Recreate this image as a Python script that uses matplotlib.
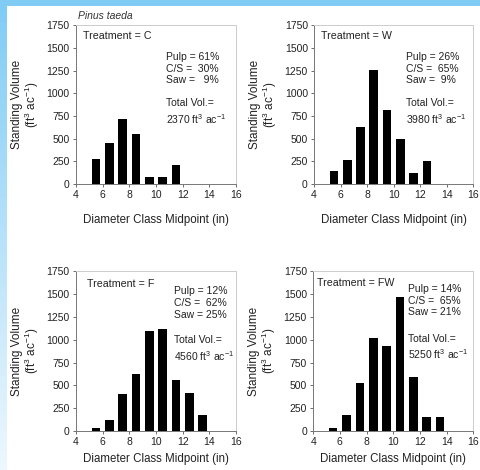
import numpy as np
import matplotlib.pyplot as plt

plt.rcParams["font.family"] = ["Liberation Sans", "DejaVu Sans"]
plt.rcParams["mathtext.default"] = "regular"

# diameter class midpoints (in) and standing volume (ft3/ac) per treatment
treatments = ["C", "W", "F", "FW"]
midpoints = {
    "C": [5.5, 6.5, 7.5, 8.5, 9.5, 10.5, 11.5],
    "W": [5.5, 6.5, 7.5, 8.5, 9.5, 10.5, 11.5, 12.5],
    "F": [5.5, 6.5, 7.5, 8.5, 9.5, 10.5, 11.5, 12.5, 13.5],
    "FW": [5.5, 6.5, 7.5, 8.5, 9.5, 10.5, 11.5, 12.5, 13.5],
}
volumes = {
    "C": [280, 450, 720, 555, 80, 80, 205],
    "W": [145, 265, 625, 1255, 815, 495, 125, 250],
    "F": [33, 124, 409, 625, 1096, 1114, 563, 417, 179],
    "FW": [37, 179, 530, 1016, 935, 1472, 596, 157, 150],
}
pulp = {"C": "61%", "W": "26%", "F": "12%", "FW": "14%"}
cs = {"C": "30%", "W": "65%", "F": "62%", "FW": "65%"}
saw = {"C": "  9%", "W": " 9%", "F": "25%", "FW": "21%"}
total_vol = {"C": 2370, "W": 3980, "F": 4560, "FW": 5250}

x_ticks = [4, 6, 8, 10, 12, 14, 16]
y_ticks = [0, 250, 500, 750, 1000, 1250, 1500, 1750]

# axes rectangles and text anchors (axes fraction)
positions = {
    "C": [0.158, 0.6085, 0.333, 0.338],
    "W": [0.653, 0.6085, 0.331, 0.338],
    "F": [0.158, 0.083, 0.333, 0.340],
    "FW": [0.651, 0.083, 0.333, 0.340],
}
xlabel_pad = {"C": 10, "W": 10, "F": 4, "FW": 4}
treat_xy = {"C": (0.045, 0.93), "W": (0.045, 0.93), "F": (0.07, 0.92), "FW": (0.025, 0.925)}
share_xy = {"C": (0.56, 0.83), "W": (0.58, 0.83), "F": (0.61, 0.905), "FW": (0.59, 0.92)}
total_xy = {"C": (0.56, 0.54), "W": (0.58, 0.54), "F": (0.61, 0.60), "FW": (0.59, 0.61)}

fig = plt.figure(figsize=(4.81, 4.70), dpi=100)
fig.patch.set_facecolor("white")

# light blue frame on the top and left edge of the slide
bg = fig.add_axes([0, 0, 1, 1], zorder=-5)
bg.set_xlim(0, 481)
bg.set_ylim(470, 0)
bg.axis("off")
blue = np.array([0.50, 0.80, 0.96])
pale = np.array([0.93, 0.97, 0.995])
t = np.linspace(0, 1, 100)[:, None, None]
strip = (1 - t) * blue + t * pale
bg.imshow(strip, extent=(0, 7, 470, 0), aspect="auto")
bg.add_patch(plt.Rectangle((0, 0), 481, 6, color=blue, lw=0))

for key in treatments:
    ax = fig.add_axes(positions[key])
    ax.bar(midpoints[key], volumes[key], width=0.65, color="black")
    ax.set_xlim(4, 16)
    ax.set_ylim(0, 1750)
    ax.set_xticks(x_ticks)
    ax.set_yticks(y_ticks)
    ax.tick_params(labelsize=7.5, length=2.5, width=0.6, colors="#555555",
                   labelcolor="#222222", pad=2)
    for side in ["left", "bottom"]:
        ax.spines[side].set_color("#777777")
        ax.spines[side].set_linewidth(0.7)
    for side in ["top", "right"]:
        ax.spines[side].set_color("#cccccc")
        ax.spines[side].set_linewidth(0.7)
    ax.set_xlabel("Diameter Class Midpoint (in)", fontsize=8.3, color="#222222",
                  labelpad=xlabel_pad[key])
    ax.set_ylabel("Standing Volume\n(ft$^{3}$ ac$^{-1}$)", fontsize=8.5,
                  color="#222222", labelpad=4, linespacing=1.0)

    ax.text(*treat_xy[key], f"Treatment = {key}", transform=ax.transAxes,
            fontsize=7.7, va="center", ha="left", color="#222222")
    ax.text(*share_xy[key],
            f"Pulp = {pulp[key]}\nC/S =  {cs[key]}\nSaw = {saw[key]}",
            transform=ax.transAxes, fontsize=7.5, va="top", ha="left",
            color="#222222", linespacing=1.2)
    ax.text(*total_xy[key],
            f"Total Vol.=\n{total_vol[key]} ft$^3$ ac$^{{-1}}$",
            transform=ax.transAxes, fontsize=7.5, va="top", ha="left",
            color="#222222", linespacing=1.35)

    if key == "C":
        ax.text(0.01, 1.025, "Pinus taeda", transform=ax.transAxes,
                fontsize=7.5, style="italic", color="#333333", va="bottom")

fig.savefig("out.png", dpi=100)
